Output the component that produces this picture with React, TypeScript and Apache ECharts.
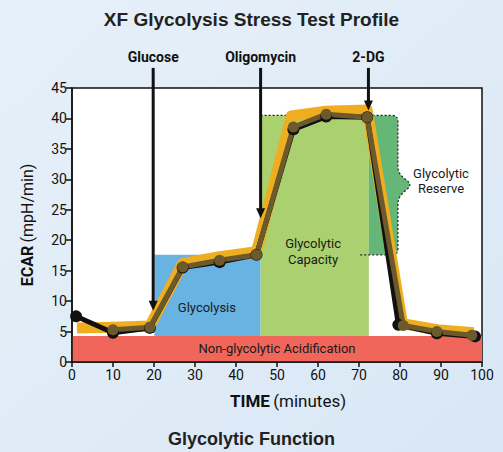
import React, { useEffect, useRef } from 'react';
import * as echarts from 'echarts';

// ---- data ----
const measuredTime = [1, 10, 19, 27, 36, 45, 54, 62, 72, 79.6, 89, 98.3];
const measuredEcar = [7.5, 4.8, 5.6, 15.5, 16.4, 17.6, 38.2, 40.3, 40.2, 6.1, 4.7, 4.2];

const traceTime = [10, 19, 27, 36, 45, 54, 62, 72, 80.8, 89, 97.5];
const traceEcar = [5.3, 5.7, 15.6, 16.7, 17.6, 38.6, 40.7, 40.2, 6.0, 5.0, 4.4];

const bandTime = [1.2, 10, 19, 27, 36, 45, 53.5, 62, 72, 80.6, 89, 98];
const bandEcar = [5.6, 5.7, 5.9, 16.2, 17.3, 18.1, 40.4, 41.2, 41.4, 6.3, 5.3, 4.8];

const regionNames = ['Non-glycolytic Acidification', 'Glycolysis', 'Glycolytic\nCapacity'];
const regionX0 = [0, 20.1, 46];
const regionX1 = [100, 46, 72.4];
const regionY0 = [0, 4.25, 4.25];
const regionY1 = [4.25, 17.6, 40.5];
const regionLabelX = [50, 32.9, 58.8];
const regionLabelY = [2.15, 9.0, 18.1];

const reserveName = 'Glycolytic\nReserve';
const reserveX = [72.4, 79.5];
const reserveY = [17.6, 40.5];
const reserveTip = [82.4, 29.1];
const reserveDotStartX = [46, 69.8];
const reserveLabel = [90.0, 29.8];

const injectionNames = ['Glucose', 'Oligomycin', '2-DG'];
const injectionTime = [19.8, 46.0, 72.3];
const injectionTip = [8.4, 23.6, 41.3];
const injectionTop = 48.3;

// ---- styles ----
const FONT = 'Roboto, "Noto Sans", sans-serif';
const TITLE_FONT = '"Liberation Sans", Arial, sans-serif';
const REGION_COLORS = ['#f0665a', '#69b3e3', '#aad06f'];
const RESERVE_COLOR = '#64b777';

const option: any = {
  animation: false,
  backgroundColor: {
    type: 'linear', x: 0, y: 0, x2: 1, y2: 1,
    colorStops: [
      { offset: 0, color: '#e6f0f9' },
      { offset: 1, color: '#d9e7f5' },
    ],
  },
  title: [
    {
      text: 'XF Glycolysis Stress Test Profile',
      left: 'center',
      top: 5,
      textStyle: { fontFamily: TITLE_FONT, fontWeight: 'bold', fontSize: 19, color: '#222' },
    },
    {
      text: 'Glycolytic Function',
      left: 'center',
      top: 425,
      textStyle: { fontFamily: TITLE_FONT, fontWeight: 'bold', fontSize: 18, color: '#222' },
    },
  ],
  grid: {
    left: 72, top: 88, width: 410, height: 274,
    show: true, backgroundColor: '#ffffff', borderColor: '#111', borderWidth: 1.5,
  },
  xAxis: {
    type: 'value', min: 0, max: 100, interval: 10, z: 10,
    axisLine: { show: true, onZero: false, lineStyle: { color: '#111', width: 1.5 } },
    axisTick: { show: true, length: 5, lineStyle: { color: '#111', width: 1.5 } },
    axisLabel: { color: '#111', fontSize: 14, fontFamily: FONT, margin: 6 },
    splitLine: { show: false },
    name: '{b|TIME} {r|(minutes)}',
    nameLocation: 'middle',
    nameGap: 30,
    nameTextStyle: {
      padding: [0, 0, 0, 22],
      rich: {
        b: { fontWeight: 'bold', fontSize: 17, fontFamily: FONT, color: '#111' },
        r: { fontSize: 17, fontFamily: FONT, color: '#111' },
      },
    },
  },
  yAxis: {
    type: 'value', min: 0, max: 45, interval: 5, z: 10,
    axisLine: { show: true, onZero: false, lineStyle: { color: '#111', width: 1.5 } },
    axisTick: { show: true, length: 6, lineStyle: { color: '#111', width: 1.5 } },
    axisLabel: { color: '#111', fontSize: 14, fontFamily: FONT, margin: 5 },
    splitLine: { show: false },
    name: '{b|ECAR} {r|(mpH/min)}',
    nameLocation: 'middle',
    nameGap: 37,
    nameTextStyle: {
      rich: {
        b: { fontWeight: 'bold', fontSize: 16, fontFamily: FONT, color: '#111' },
        r: { fontSize: 16, fontFamily: FONT, color: '#111' },
      },
    },
  },
  series: [
    {
      type: 'custom',
      z: 1,
      silent: true,
      clip: false,
      data: regionNames.map((_, i) => [regionX0[i], regionY0[i]]),
      renderItem: (params: any, api: any) => {
        const i = params.dataIndex;
        const p0 = api.coord([regionX0[i], regionY1[i]]);
        const p1 = api.coord([regionX1[i], regionY0[i]]);
        const lp = api.coord([regionLabelX[i], regionLabelY[i]]);
        return {
          type: 'group',
          children: [
            {
              type: 'rect',
              shape: { x: p0[0], y: p0[1], width: p1[0] - p0[0], height: p1[1] - p0[1] },
              style: { fill: REGION_COLORS[i] },
            },
            {
              type: 'text',
              x: lp[0], y: lp[1], z2: 5,
              style: {
                text: regionNames[i], fill: '#1a1a1a', font: `13px ${FONT}`,
                align: 'center', verticalAlign: 'middle', lineHeight: 16,
              },
            },
          ],
        };
      },
    },
    {
      type: 'custom',
      z: 1,
      silent: true,
      clip: false,
      data: [[reserveX[0], reserveY[0]]],
      renderItem: (params: any, api: any) => {
        const tl = api.coord([reserveX[0], reserveY[1]]);
        const br = api.coord([reserveX[1], reserveY[0]]);
        const tip = api.coord([reserveTip[0], reserveTip[1]]);
        const dTop = api.coord([reserveDotStartX[0], reserveY[1]]);
        const dBot = api.coord([reserveDotStartX[1], reserveY[0]]);
        const lab = api.coord([reserveLabel[0], reserveLabel[1]]);
        const bx = br[0];
        const top = tl[1];
        const bot = br[1];
        const r = 6;
        const upEnd = tip[1] - 18;
        const loStart = tip[1] + 19;
        const right =
          `L${bx - r},${top} Q${bx},${top} ${bx},${top + r} ` +
          `L${bx},${upEnd} C${bx},${upEnd + 11} ${tip[0]},${tip[1] - 5} ${tip[0]},${tip[1]} ` +
          `C${tip[0]},${tip[1] + 5} ${bx},${loStart - 11} ${bx},${loStart} ` +
          `L${bx},${bot - r} Q${bx},${bot} ${bx - r},${bot} `;
        const fillPath = `M${tl[0]},${top} ` + right + `L${tl[0]},${bot} Z`;
        const strokePath = `M${dTop[0]},${top} ` + right + `L${dBot[0]},${bot}`;
        return {
          type: 'group',
          children: [
            { type: 'path', shape: { pathData: fillPath }, style: { fill: RESERVE_COLOR } },
            {
              type: 'path', z2: 3, shape: { pathData: strokePath },
              style: { fill: 'none', stroke: '#222', lineWidth: 1.2, lineDash: [2, 2] },
            },
            {
              type: 'text', x: lab[0], y: lab[1], z2: 5,
              style: {
                text: reserveName, fill: '#1a1a1a', font: `13px ${FONT}`,
                align: 'center', verticalAlign: 'middle', lineHeight: 15,
              },
            },
          ],
        };
      },
    },
    {
      type: 'line',
      z: 2,
      silent: true,
      symbol: 'none',
      data: bandTime.map((t, i) => [t, bandEcar[i]]),
      lineStyle: { color: '#efae1f', width: 11, join: 'round', cap: 'butt' },
    },
    {
      type: 'line',
      z: 2,
      silent: true,
      symbol: 'circle',
      symbolSize: 12,
      data: measuredTime.map((t, i) => [t, measuredEcar[i]]),
      itemStyle: { color: '#111' },
      lineStyle: { color: '#111', width: 5, join: 'round' },
    },
    {
      type: 'line',
      z: 2,
      silent: true,
      symbol: 'circle',
      symbolSize: 11,
      data: traceTime.map((t, i) => [t, traceEcar[i]]),
      itemStyle: { color: '#6c5a2c' },
      lineStyle: { color: '#6c5a2c', width: 5, join: 'round' },
    },
    {
      type: 'custom',
      z: 4,
      silent: true,
      clip: false,
      data: injectionNames.map((_, i) => [injectionTime[i], injectionTip[i]]),
      renderItem: (params: any, api: any) => {
        const i = params.dataIndex;
        const top = api.coord([injectionTime[i], injectionTop]);
        const tip = api.coord([injectionTime[i], injectionTip[i]]);
        const x = top[0];
        return {
          type: 'group',
          children: [
            {
              type: 'line',
              shape: { x1: x, y1: top[1], x2: x, y2: tip[1] - 8 },
              style: { stroke: '#111', lineWidth: 3 },
            },
            {
              type: 'polygon',
              shape: { points: [[x - 4.5, tip[1] - 10], [x + 4.5, tip[1] - 10], [x, tip[1]]] },
              style: { fill: '#111' },
            },
            {
              type: 'text',
              x, y: top[1] - 11,
              style: {
                text: injectionNames[i], fill: '#111', font: `bold 14px ${FONT}`,
                align: 'center', verticalAlign: 'middle',
              },
            },
          ],
        };
      },
    },
  ],
};

export default function App() {
  const ref = useRef<HTMLDivElement>(null);
  useEffect(() => {
    const chart = echarts.init(ref.current as HTMLDivElement, null, { renderer: 'svg' });
    chart.setOption(option);
    return () => chart.dispose();
  }, []);
  return (
    <div
      ref={ref}
      style={{ position: 'fixed', left: 0, top: 0, width: 503, height: 452 }}
    />
  );
}
